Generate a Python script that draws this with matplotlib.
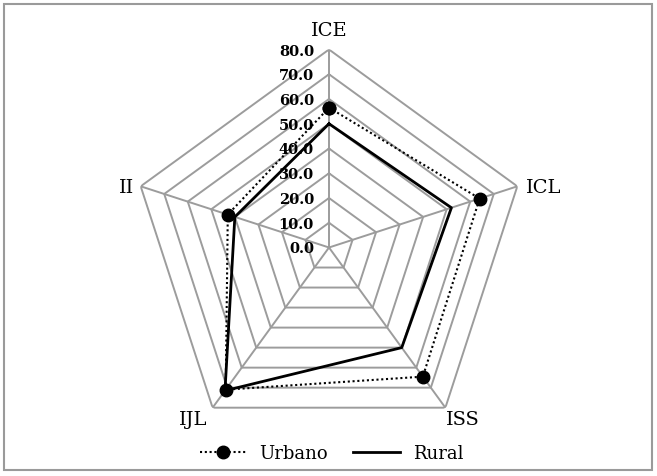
import numpy as np
import matplotlib
matplotlib.use("Agg")
import matplotlib.pyplot as plt
from matplotlib.patches import Rectangle

plt.rcParams['font.family'] = ['DejaVu Serif']

categories = ["ICE", "ICL", "ISS", "IJL", "II"]
urbano = [56.5, 64.0, 64.5, 71.0, 43.0]
rural = [50.0, 52.0, 50.0, 71.5, 40.0]
levels = [0, 10, 20, 30, 40, 50, 60, 70, 80]
level_labels = ["%.1f" % v for v in levels]

W, H = 657, 477
fig = plt.figure(figsize=(W / 100, H / 100), dpi=100)

# gray frame round the whole chart
fig.patches.append(Rectangle((4 / W, 6 / H), 648 / W, 466 / H, transform=fig.transFigure,
                             fill=False, edgecolor='#9a9a9a', linewidth=1.5))

cx, cy, rad = 329, 248.5, 198
ax = fig.add_axes([(cx - rad) / W, (H - cy - rad) / H, 2 * rad / W, 2 * rad / H],
                  projection='polar')
ax.set_theta_offset(np.pi / 2)
ax.set_theta_direction(-1)
ax.set_ylim(0, 80)
ax.grid(False)
ax.spines['polar'].set_visible(False)
ax.set_xticks([])
ax.set_yticks([])
ax.patch.set_visible(False)

n = len(categories)
theta = np.linspace(0, 2 * np.pi, n, endpoint=False)
theta_c = np.append(theta, theta[0])

gray = '#9c9c9c'
for lv in levels[1:]:
    ax.plot(theta_c, [lv] * (n + 1), color=gray, lw=1.4, zorder=1)
for t in theta:
    ax.plot([t, t], [0, 80], color=gray, lw=1.4, zorder=1)

ax.plot(theta_c, np.append(rural, rural[0]), color='black', lw=2.0, zorder=3, label='Rural')
ax.plot(theta_c, np.append(urbano, urbano[0]), color='black', lw=1.5, ls=(0, (1, 1.3)),
        marker='o', markersize=9, zorder=4, label='Urbano')

for lv, lab in zip(levels, level_labels):
    ax.annotate(lab, xy=(0, lv), xytext=(-15, -1), textcoords='offset pixels',
                ha='right', va='center', fontsize=10.5, fontweight='bold', zorder=2)

offsets = [(0, 11), (9, -1), (1, -2), (-5, -2), (-7, -1)]
aligns = [('center', 'bottom'), ('left', 'center'), ('left', 'top'),
          ('right', 'top'), ('right', 'center')]
for t, lab, off, al in zip(theta, categories, offsets, aligns):
    ax.annotate(lab, xy=(t, 80), xytext=off, textcoords='offset pixels',
                ha=al[0], va=al[1], fontsize=14)

handles, labels = ax.get_legend_handles_labels()
leg = fig.legend(handles[::-1], labels[::-1], loc='center', bbox_to_anchor=(0.505, (H - 454) / H),
                 ncol=2, frameon=False, fontsize=13, handlelength=2.6, columnspacing=1.4,
                 handletextpad=0.7)

fig.savefig("out.png", dpi=100)
